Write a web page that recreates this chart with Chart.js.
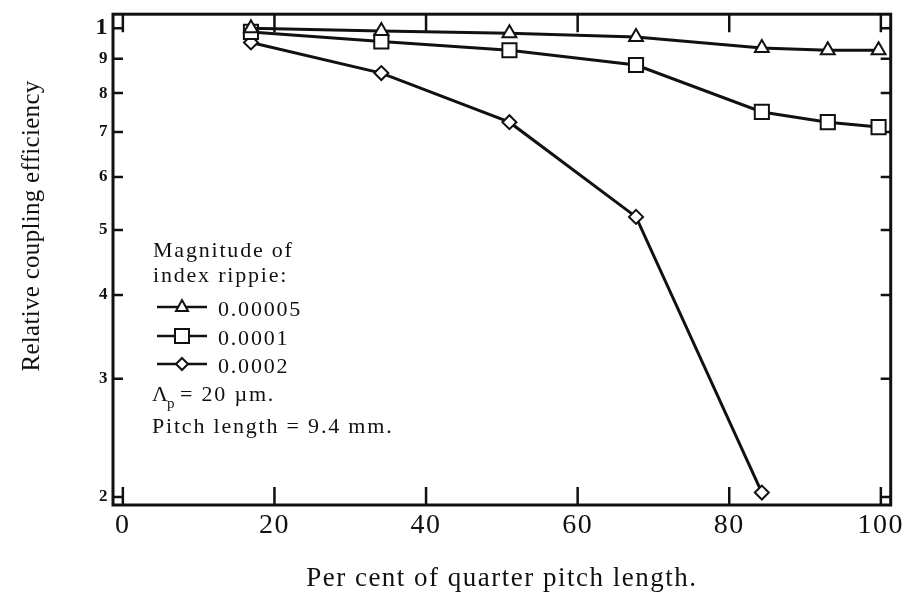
<!DOCTYPE html>
<html>
<head>
<meta charset="utf-8">
<script src="https://cdn.jsdelivr.net/npm/chart.js@4/dist/chart.umd.min.js"></script>
<style>
  html, body { margin: 0; padding: 0; background: #fff; }
  #wrap { width: 906px; height: 608px; position: relative; }
</style>
</head>
<body>
<div id="wrap"><canvas id="c" width="906" height="608"></canvas></div>
<script>
// Per cent of quarter pitch length at which each efficiency was measured
const pitchPercent = [16.9, 34.1, 51, 67.7, 84.3, 93, 99.7];
// Relative coupling efficiency for each index-ripple magnitude
const ripple00005 = [1.0, 0.99, 0.983, 0.97, 0.934, 0.927, 0.927];
const ripple0001  = [0.987, 0.955, 0.927, 0.881, 0.75, 0.724, 0.712];
const ripple0002  = [0.952, 0.857, 0.724, 0.523, 0.203];

const seriesNames = ['0.00005', '0.0001', '0.0002'];
const xTickValues = [0, 20, 40, 60, 80, 100];
const yTickValues = [1, 0.9, 0.8, 0.7, 0.6, 0.5, 0.4, 0.3, 0.2];
const yTickLabels = ['1', '9', '8', '7', '6', '5', '4', '3', '2'];
const legendHeading = ['Magnitude of', 'index rippie:'];
const xTitle = 'Per cent of quarter pitch length.';
const yTitle = 'Relative coupling efficiency';

const INK = '#111';
const SERIF = '"Liberation Serif", "Times New Roman", serif';

function toPoints(values) {
  return values.map((v, i) => ({ x: pitchPercent[i], y: v }));
}

// Box frame, inward tick marks, y title and the in-plot key
const decorations = {
  id: 'decorations',
  beforeDraw(chart) {
    // the typeface used here is set a little wider than the stock serif
    chart.ctx.letterSpacing = '1.5px';
  },
  beforeDatasetsDraw(chart) {
    const { ctx, chartArea: a, scales: { x, y } } = chart;
    ctx.save();
    ctx.strokeStyle = INK;
    ctx.lineWidth = 3;
    ctx.strokeRect(a.left, a.top, a.right - a.left, a.bottom - a.top);
    ctx.lineWidth = 2.5;
    ctx.beginPath();
    xTickValues.forEach(v => {
      const px = x.getPixelForValue(v);
      ctx.moveTo(px, a.bottom); ctx.lineTo(px, a.bottom - 18);
      ctx.moveTo(px, a.top); ctx.lineTo(px, a.top + 18);
    });
    yTickValues.forEach(v => {
      const py = y.getPixelForValue(v);
      ctx.moveTo(a.left, py); ctx.lineTo(a.left + 10, py);
      ctx.moveTo(a.right, py); ctx.lineTo(a.right - 10, py);
    });
    ctx.stroke();
    ctx.restore();
  },
  afterDraw(chart) {
    const { ctx } = chart;
    ctx.save();
    ctx.fillStyle = INK;
    // y axis title
    ctx.save();
    ctx.letterSpacing = '0.3px';
    ctx.translate(39, 226);
    ctx.rotate(-Math.PI / 2);
    ctx.font = '25px ' + SERIF;
    ctx.textAlign = 'center';
    ctx.textBaseline = 'alphabetic';
    ctx.fillText(yTitle, 0, 0);
    ctx.restore();

    // key
    ctx.letterSpacing = '1.8px';
    ctx.font = '22px ' + SERIF;
    ctx.textAlign = 'left';
    ctx.textBaseline = 'alphabetic';
    ctx.fillText(legendHeading[0], 153, 257);
    ctx.fillText(legendHeading[1], 153, 282);

    const styles = chart.data.datasets.map(d => d.pointStyle);
    const rowsY = [307, 336, 364];
    styles.forEach((st, i) => {
      const cy = rowsY[i];
      ctx.strokeStyle = INK;
      ctx.lineWidth = 2.5;
      ctx.beginPath();
      ctx.moveTo(157, cy); ctx.lineTo(207, cy);
      ctx.stroke();
      ctx.fillStyle = '#fff';
      ctx.lineWidth = 2;
      ctx.beginPath();
      const cx = 182;
      if (st === 'triangle') {
        ctx.moveTo(cx, cy - 7); ctx.lineTo(cx + 6, cy + 4); ctx.lineTo(cx - 6, cy + 4); ctx.closePath();
      } else if (st === 'rect') {
        ctx.rect(cx - 7, cy - 7, 14, 14);
      } else {
        ctx.moveTo(cx, cy - 6); ctx.lineTo(cx + 6, cy); ctx.lineTo(cx, cy + 6); ctx.lineTo(cx - 6, cy); ctx.closePath();
      }
      ctx.fill();
      ctx.stroke();
      ctx.fillStyle = INK;
      ctx.fillText(seriesNames[i], 218, cy + 9);
    });

    // grating period and pitch length notes
    ctx.fillText('\u039B', 152, 401);
    ctx.font = '15px ' + SERIF;
    ctx.fillText('p', 167, 408);
    ctx.font = '22px ' + SERIF;
    ctx.fillText('= 20 \u00B5m.', 180, 401);
    ctx.fillText('Pitch length = 9.4 mm.', 152, 433);
    ctx.restore();
    ctx.letterSpacing = '0px';
  }
};

const data = {
  datasets: [
    {
      label: seriesNames[0],
      data: toPoints(ripple00005),
      pointStyle: 'triangle',
      pointRadius: 8
    },
    {
      label: seriesNames[1],
      data: toPoints(ripple0001),
      pointStyle: 'rect',
      pointRadius: 10
    },
    {
      label: seriesNames[2],
      data: toPoints(ripple0002),
      pointStyle: 'rectRot',
      pointRadius: 7
    }
  ].map(d => Object.assign({
    borderColor: INK,
    borderWidth: 3,
    pointBackgroundColor: '#fff',
    pointBorderColor: INK,
    pointBorderWidth: 2,
    tension: 0,
    fill: false
  }, d))
};

new Chart(document.getElementById('c'), {
  type: 'line',
  data,
  plugins: [decorations],
  options: {
    responsive: false,
    devicePixelRatio: 1,
    animation: false,
    layout: { padding: { left: 0, right: 11, top: 14, bottom: 0 } },
    plugins: { legend: { display: false }, tooltip: { enabled: false } },
    scales: {
      x: {
        type: 'linear',
        min: -1.3,
        max: 101.3,
        afterBuildTicks: s => { s.ticks = xTickValues.map(v => ({ value: v })); },
        afterFit: s => { s.height = 103; },
        grid: { display: false, drawTicks: false },
        border: { display: false },
        ticks: {
          color: INK,
          padding: 4,
          maxRotation: 0,
          font: { family: SERIF, size: 28 }
        },
        title: {
          display: true,
          text: xTitle,
          color: INK,
          font: { family: SERIF, size: 27 },
          padding: { top: 0, bottom: 13 }
        }
      },
      y: {
        type: 'logarithmic',
        min: 0.1945,
        max: 1.049,
        afterBuildTicks: s => { s.ticks = yTickValues.map(v => ({ value: v })); },
        afterFit: s => { s.width = 113; },
        grid: { display: false, drawTicks: false },
        border: { display: false },
        ticks: {
          color: INK,
          padding: 4,
          autoSkip: false,
          callback: (v, i) => yTickLabels[i],
          font: ctx => ctx.index === 0
            ? { family: SERIF, size: 24, weight: 'bold' }
            : { family: SERIF, size: 17, weight: 'bold' }
        }
      }
    }
  }
});
</script>
</body>
</html>
